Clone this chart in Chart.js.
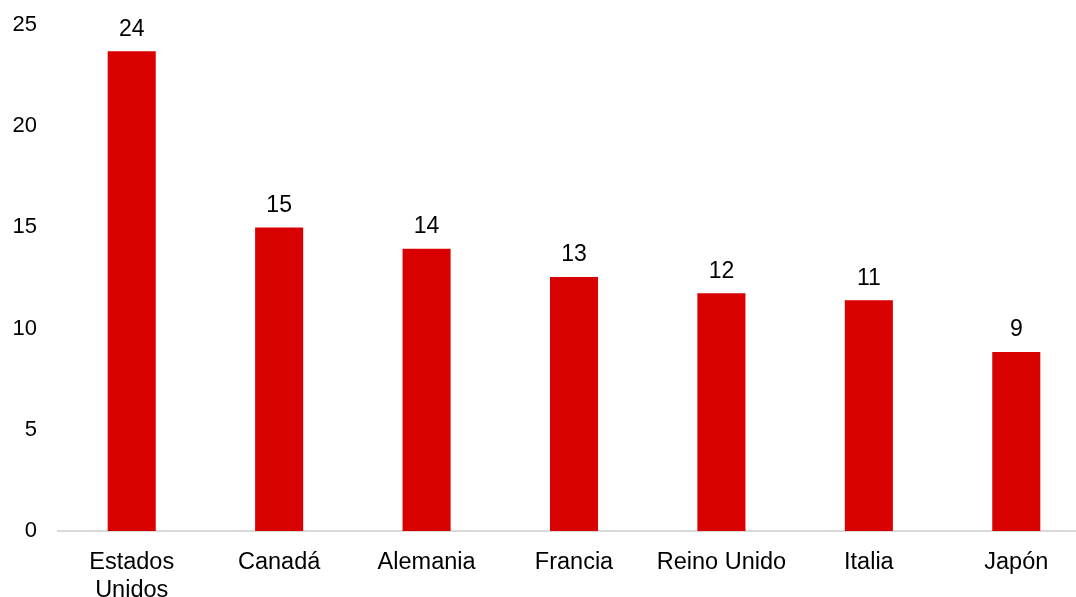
<!DOCTYPE html>
<html>
<head>
<meta charset="utf-8">
<script src="https://cdn.jsdelivr.net/npm/chart.js@4"></script>
<style>
  html, body { margin: 0; padding: 0; background: #fff; overflow: hidden; }
  #wrap { width: 1090px; height: 597px; }
</style>
</head>
<body>
<div id="wrap"><canvas id="chart" width="1090" height="597"></canvas></div>
<script>
const categories = [["Estados", "Unidos"], "Canadá", "Alemania", "Francia", "Reino Unido", "Italia", "Japón"];
const values = [23.7, 15.0, 13.95, 12.55, 11.75, 11.4, 8.85];
const yTicks = [0, 5, 10, 15, 20, 25];

const barColor = "#d90000";
const fontFamily = "'Liberation Sans', Arial, sans-serif";

// numbers above bars, rounded like the original
const valueLabels = {
	id: "valueLabels",
	afterDatasetsDraw(chart) {
		const ctx = chart.ctx;
		const meta = chart.getDatasetMeta(0);
		ctx.save();
		ctx.font = "23px " + fontFamily;
		ctx.fillStyle = "#000";
		ctx.textAlign = "center";
		ctx.textBaseline = "middle";
		meta.data.forEach((bar, i) => {
			ctx.fillText(Math.round(values[i]), bar.x, bar.y - 22);
		});
		ctx.restore();
	}
};

new Chart(document.getElementById("chart"), {
	type: "bar",
	data: {
		labels: categories,
		datasets: [{
			data: values,
			backgroundColor: barColor,
			borderWidth: 0,
			categoryPercentage: 1,
			barPercentage: 0.326
		}]
	},
	options: {
		responsive: false,
		animation: false,
		layout: { padding: { top: 25, right: 0, left: 0, bottom: 0 } },
		plugins: {
			legend: { display: false },
			tooltip: { enabled: false }
		},
		scales: {
			x: {
				grid: { display: false, drawTicks: false },
				border: { display: true, color: "#d9d9d9", width: 2 },
				ticks: {
					color: "#000",
					padding: 18,
					maxRotation: 0,
					autoSkip: false,
					font: { family: fontFamily, size: 23.5, lineHeight: 1.19 }
				},
				afterFit: s => { s.height = 66; }
			},
			y: {
				min: 0,
				max: 25,
				grid: { display: false, drawTicks: false },
				border: { display: false },
				afterBuildTicks: s => { s.ticks = yTicks.map(v => ({ value: v })); },
				ticks: {
					color: "#000",
					padding: 21,
					font: { family: fontFamily, size: 22 }
				},
				afterFit: s => {
					s.width = 58;
					s.paddingTop = 0;
					s.paddingBottom = 0;
				}
			}
		}
	},
	plugins: [valueLabels]
});
</script>
</body>
</html>
